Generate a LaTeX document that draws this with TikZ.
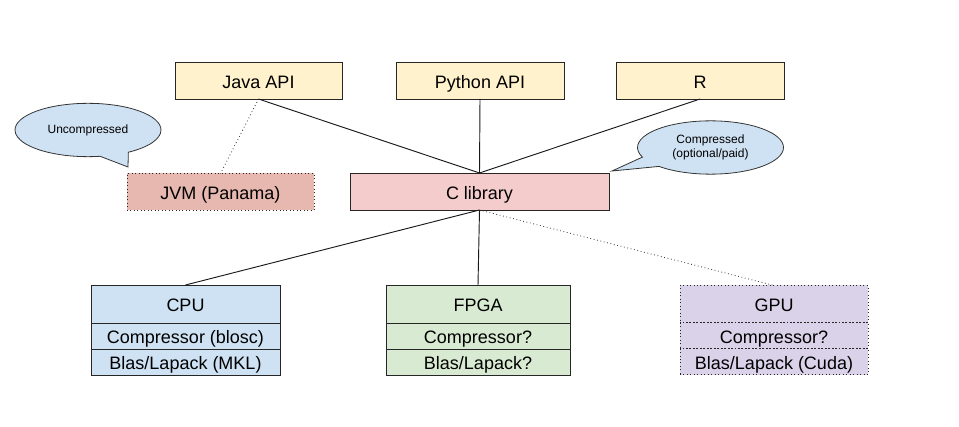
\documentclass[tikz,border=0pt]{standalone}
\usepackage{fontspec}
\setmainfont{Liberation Sans}
\usetikzlibrary{positioning,shapes.callouts}

\definecolor{apiyellow}{HTML}{FFF2CC}
\definecolor{libpink}{HTML}{F4CCCC}
\definecolor{jvmred}{HTML}{E6B8AF}
\definecolor{cpublue}{HTML}{CFE2F3}
\definecolor{fpgagreen}{HTML}{D9EAD3}
\definecolor{gpupurple}{HTML}{D9D2E9}

\tikzset{
	box/.style={draw=black!85, line width=0.6pt, inner sep=0pt, outer sep=0pt,
		text height=11.5pt, text depth=0pt,
		minimum height=27.75pt, font=\fontsize{13.5}{16}\selectfont},
	row/.style={box, minimum height=19.5pt},
	bubble/.style={ellipse callout, draw=black!80, line width=0.6pt, fill=cpublue,
		inner sep=0pt, minimum width=109.5pt, minimum height=40pt,
		callout pointer arc=24, align=center, font=\fontsize{9}{10.5}\selectfont},
	link/.style={draw=black!90, line width=0.7pt},
	weak/.style={draw=black!80, line width=0.6pt, dotted}
}

\begin{document}
\begin{tikzpicture}[x=0.75pt,y=-0.75pt]
		\useasboundingbox (0,0) rectangle (959,427);

		\node[box, fill=apiyellow, minimum width=125.25pt] (java) at (258.5,80.5) {Java API};
		\node[box, fill=apiyellow, minimum width=126pt] (python) at (480,80.5) {Python API};
		\node[box, fill=apiyellow, minimum width=126pt] (r) at (700,80.5) {R};

		\node[box, fill=jvmred, dotted, minimum width=140.25pt] (jvm) at (220.5,192) {JVM (Panama)};
		\node[box, fill=libpink, minimum width=194.25pt] (clib) at (479.5,191.5) {C library};

		\node[box, fill=cpublue, minimum width=141.75pt, minimum height=28.5pt] (cpu) at (185.5,304) {CPU};
		\node[row, fill=cpublue, minimum width=141.75pt, below=0pt of cpu] (cpu2) {Compressor (blosc)};
		\node[row, fill=cpublue, minimum width=141.75pt, below=0pt of cpu2] (cpu3) {Blas/Lapack (MKL)};

		\node[box, fill=fpgagreen, minimum width=138pt, minimum height=28.5pt] (fpga) at (478,304) {FPGA};
		\node[row, fill=fpgagreen, minimum width=138pt, below=0pt of fpga] (fpga2) {Compressor?};
		\node[row, fill=fpgagreen, minimum width=138pt, below=0pt of fpga2] (fpga3) {Blas/Lapack?};

		\node[box, dotted, fill=gpupurple, minimum width=141pt, minimum height=27.75pt] (gpu) at (774,304) {GPU};
		\node[row, dotted, fill=gpupurple, minimum width=141pt, below=0pt of gpu] (gpu2) {Compressor?};
		\node[row, dotted, fill=gpupurple, minimum width=141pt, below=0pt of gpu2] (gpu3) {Blas/Lapack (Cuda)};

		\coordinate (tipU) at (128,167);
		\coordinate (tipC) at (612,171);
		\node[bubble, callout absolute pointer={(tipU)}] (uncomp) at (88,130) {Uncompressed};
		\node[bubble, callout absolute pointer={(tipC)}] (comp) at (710.5,147.5) {Compressed\\(optional/paid)};

		\draw[link] (java.south) -- (clib.north);
		\draw[link] (python.south) -- (clib.north);
		\draw[link] (r.south) -- (clib.north);
		\draw[weak] (java.south) -- (jvm.north);

		\draw[link] (clib.south) -- (cpu.north);
		\draw[link] (clib.south) -- (fpga.north);
		\draw[weak] (clib.south) -- (gpu.north);
	\end{tikzpicture}
\end{document}
